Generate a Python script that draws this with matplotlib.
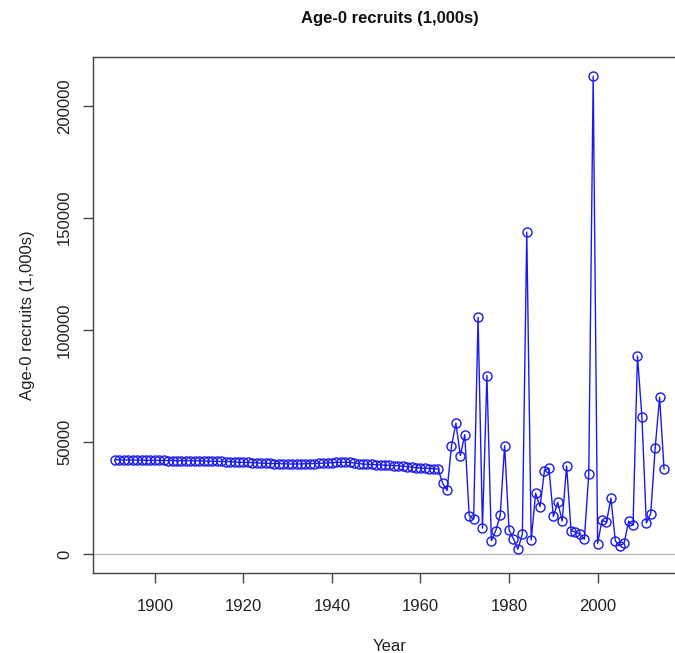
import matplotlib
matplotlib.use("Agg")
import matplotlib.pyplot as plt

plt.rcParams['font.family'] = ['Liberation Sans', 'DejaVu Sans']

years = list(range(1891, 2016))

early_values = [
    42000, 41950, 41900, 41900, 41850, 41850, 41800, 41800, 41750, 41750,
    41700, 41700, 41650, 41650, 41600, 41600, 41550, 41550, 41500, 41500,
    41450, 41400, 41350, 41300, 41250, 41200, 41100, 41000, 40900, 40850,
    40800, 40700, 40600, 40500, 40400, 40350, 40300, 40250, 40200, 40150,
    40100, 40100, 40150, 40200, 40250, 40300, 40400, 40500, 40600, 40700,
    40800, 40850, 40900, 40800, 40600, 40300, 40100, 40000, 39900, 39800,
    39700, 39600, 39500, 39400, 39300, 39100, 38900, 38700, 38500, 38300,
    38200, 38100, 38000, 37900,
]  # 1891-1964

late_values = [
    31500, 28300, 48200, 58300, 43900, 53200, 17000, 15500, 105600, 11500,  # 1965-1974
    79600, 5900, 10400, 17200, 48300, 10700, 6700, 2100, 8800, 143600,     # 1975-1984
    6200, 27000, 21100, 37200, 38300, 16700, 23000, 14700, 39200, 10400,   # 1985-1994
    9700, 8900, 6500, 35600, 213200, 4600, 15100, 14100, 24900, 5800,      # 1995-2004
    3600, 4800, 14600, 12800, 88300, 61300, 13800, 18000, 47300, 69900,    # 2005-2014
    37900,                                                                  # 2015
]

values = early_values + late_values

x_ticks = [1900, 1920, 1940, 1960, 1980, 2000]
y_ticks = [0, 50000, 100000, 150000, 200000]

W, H = 675, 653
fig = plt.figure(figsize=(W / 100, H / 100), dpi=100)
left_px, right_px, top_px, bottom_px = 93, 686, 57, 573
ax = fig.add_axes([left_px / W, 1 - bottom_px / H,
                   (right_px - left_px) / W, (bottom_px - top_px) / H])

ax.axhline(0, color='#bbbbbb', lw=1, zorder=1)
ax.plot(years, values, color='#1a1aee', lw=1, marker='o', markersize=6.5,
        markerfacecolor='none', markeredgecolor='#1a1aee', markeredgewidth=1,
        zorder=2)

xr = max(years) - min(years)
ax.set_xlim(min(years) - 0.04 * xr, max(years) + 0.04 * xr)
ymax = max(values)
ax.set_ylim(-0.04 * ymax, ymax * 1.04)

ax.set_xticks(x_ticks)
ax.set_xticklabels([str(t) for t in x_ticks], fontsize=12, color='#222222')
ax.set_yticks(y_ticks)
ax.set_yticklabels([str(t) for t in y_ticks], fontsize=12, rotation=90,
                   va='center', color='#222222')
ax.tick_params(direction='out', length=7, width=1, color='#444444')
ax.tick_params(axis='x', pad=12)
ax.tick_params(axis='y', pad=8)

for s in ax.spines.values():
    s.set_color('#444444')
    s.set_linewidth(1)

ax.set_xlabel('Year', fontsize=12, labelpad=18, color='#222222')
ax.set_ylabel('Age-0 recruits (1,000s)', fontsize=12, labelpad=16, color='#222222')
fig.text(390 / W, 1 - 18 / H, 'Age-0 recruits (1,000s)',
         ha='center', va='center', fontsize=12, fontweight='bold', color='#111111')

fig.savefig('out.png', dpi=100)
